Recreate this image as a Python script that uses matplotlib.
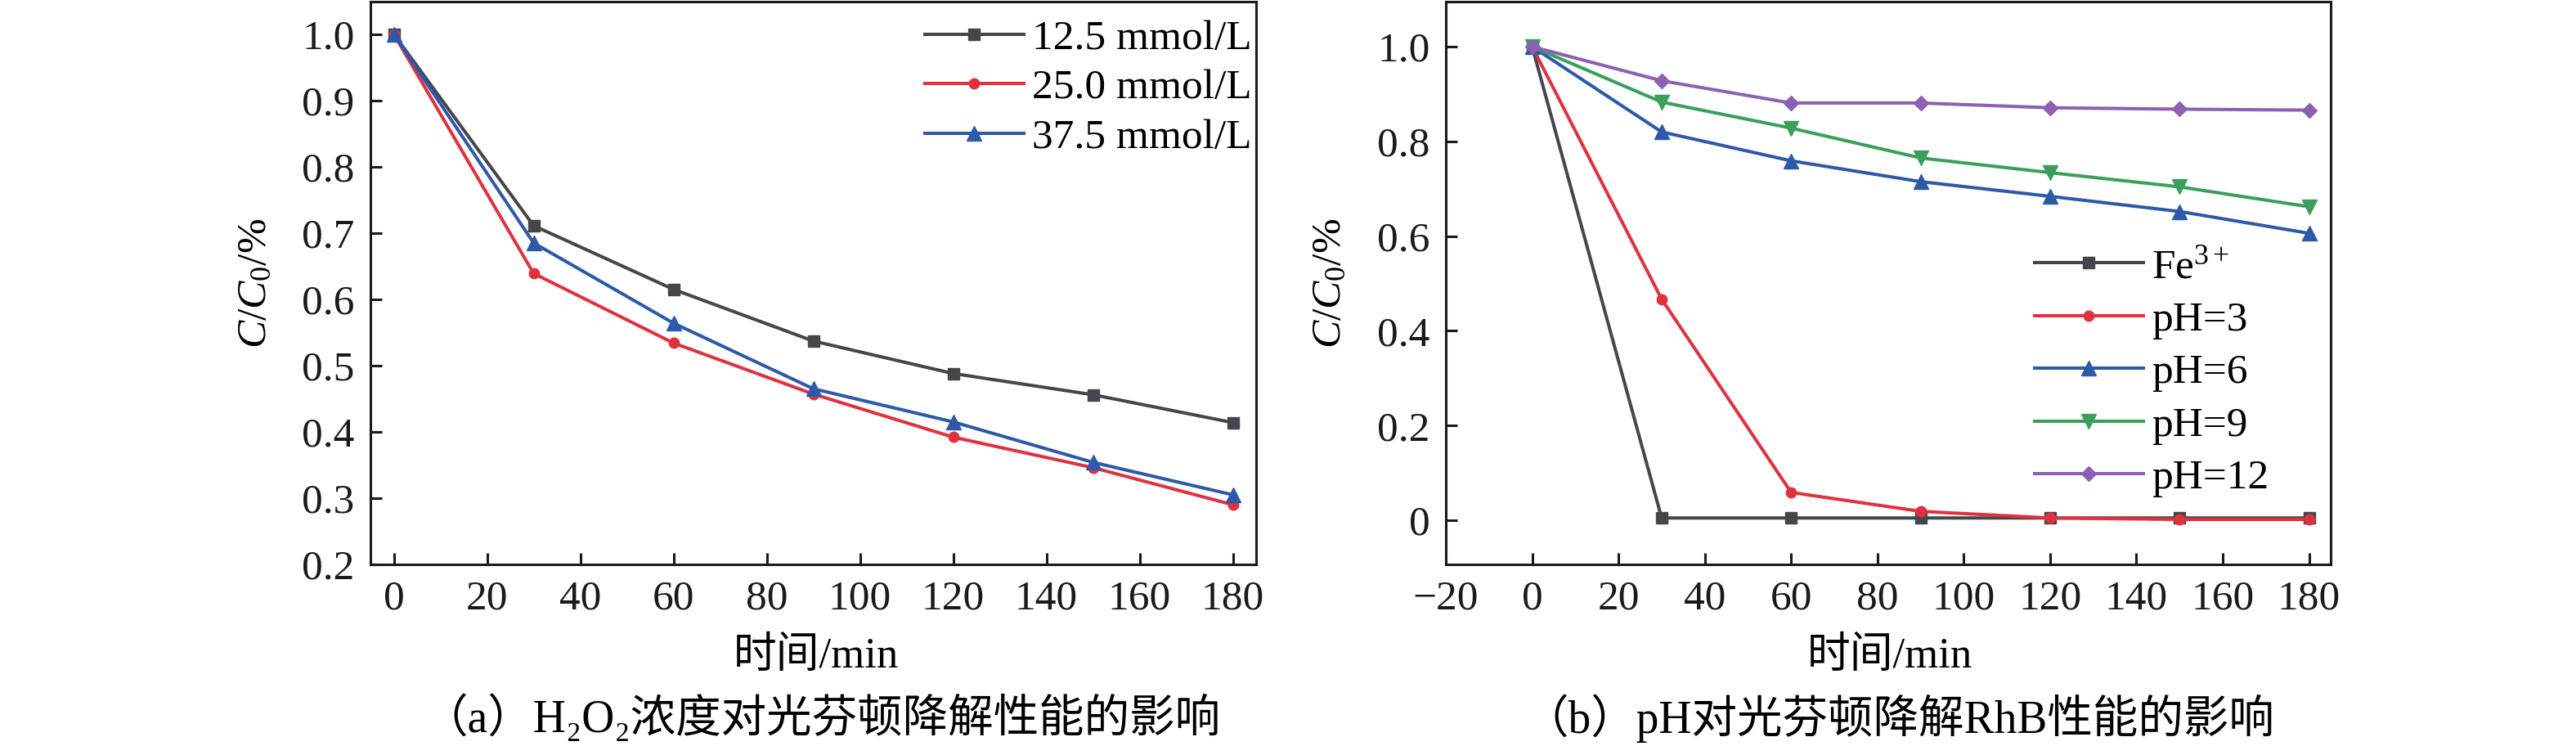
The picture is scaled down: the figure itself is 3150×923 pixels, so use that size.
import numpy as np
import matplotlib
matplotlib.use('Agg')
import matplotlib.pyplot as plt

# Fonts ------------------------------------------------------------------------
plt.rcParams['font.family'] = ['Liberation Serif', 'Noto Sans CJK SC', 'DejaVu Serif']
plt.rcParams['mathtext.fontset'] = 'custom'
plt.rcParams['mathtext.rm'] = 'Liberation Serif'
plt.rcParams['mathtext.it'] = 'Liberation Serif:italic'
plt.rcParams['axes.unicode_minus'] = True

FS = 37      # font size
CFS = 40     # caption font size
LW = 2.9     # data line width
SW = 2.2     # spine width

# Data -------------------------------------------------------------------------
time_min = [0, 30, 60, 90, 120, 150, 180]

# (a) H2O2 concentration
h2o2_labels = ['12.5 mmol/L', '25.0 mmol/L', '37.5 mmol/L']
c_125 = [1.0, 0.711, 0.615, 0.537, 0.488, 0.456, 0.414]
c_250 = [1.0, 0.639, 0.534, 0.457, 0.392, 0.346, 0.290]
c_375 = [1.0, 0.685, 0.564, 0.465, 0.415, 0.354, 0.305]

# (b) pH
ph_labels = ['Fe$^{3+}$', 'pH=3', 'pH=6', 'pH=9', 'pH=12']
c_fe = [1.0, 0.005, 0.005, 0.005, 0.005, 0.005, 0.005]
c_ph3 = [1.0, 0.467, 0.059, 0.019, 0.005, 0.002, 0.002]
c_ph6 = [1.0, 0.820, 0.759, 0.715, 0.684, 0.652, 0.606]
c_ph9 = [1.0, 0.883, 0.828, 0.765, 0.734, 0.704, 0.662]
c_ph12 = [1.0, 0.928, 0.881, 0.881, 0.871, 0.868, 0.866]

xticks_a = np.arange(0, 181, 20)
yticks_a = [0.2, 0.3, 0.4, 0.5, 0.6, 0.7, 0.8, 0.9, 1.0]
xticks_b = np.arange(-20, 181, 20)
yticks_b = [0, 0.2, 0.4, 0.6, 0.8, 1.0]

# Styles -----------------------------------------------------------------------
col_k = '#45464b'
col_r = '#e0313f'
col_b = '#2d59a9'
col_g = '#3a9f5c'
col_p = '#8c60b2'

W, H = 3150, 923
fig = plt.figure(figsize=(W / 100, H / 100), dpi=100)

ax1 = fig.add_axes([453 / W, 1 - 690 / H, (1536 - 453) / W, 688 / H])
ax2 = fig.add_axes([1768 / W, 1 - 690 / H, (2850 - 1768) / W, 688 / H])


def style_axes(ax):
    for sp in ax.spines.values():
        sp.set_linewidth(SW)
        sp.set_color('#1a1a1a')
    ax.tick_params(axis='both', direction='in', length=10, width=SW,
                   labelsize=FS, top=False, right=False, colors='#1a1a1a')
    ax.tick_params(axis='x', pad=14)
    ax.tick_params(axis='y', pad=14)


# Panel (a) --------------------------------------------------------------------
ax1.plot(time_min, c_125, color=col_k, lw=LW, marker='s', ms=10, label=h2o2_labels[0])
ax1.plot(time_min, c_250, color=col_r, lw=LW, marker='o', ms=9, label=h2o2_labels[1])
ax1.plot(time_min, c_375, color=col_b, lw=LW, marker='^', ms=13, label=h2o2_labels[2])
ax1.set_xlim(-5, 185)
ax1.set_ylim(0.2, 1.049)
ax1.set_xticks(xticks_a)
ax1.set_yticks(yticks_a)
ax1.set_yticklabels(['%.1f' % v for v in yticks_a])
style_axes(ax1)
ax1.legend(loc='upper right', bbox_to_anchor=(0.995, 0.968), frameon=False,
           fontsize=FS, handlelength=2.35, handletextpad=0.2, labelspacing=0.26,
           borderpad=0, borderaxespad=0)

# Panel (b) --------------------------------------------------------------------
ax2.plot(time_min, c_fe, color=col_k, lw=LW, marker='s', ms=10, label=ph_labels[0])
ax2.plot(time_min, c_ph3, color=col_r, lw=LW, marker='o', ms=9, label=ph_labels[1])
ax2.plot(time_min, c_ph6, color=col_b, lw=LW, marker='^', ms=13, label=ph_labels[2])
ax2.plot(time_min, c_ph9, color=col_g, lw=LW, marker='v', ms=13, label=ph_labels[3])
ax2.plot(time_min, c_ph12, color=col_p, lw=LW, marker='D', ms=9, label=ph_labels[4])
ax2.set_xlim(-20, 185)
ax2.set_ylim(-0.093, 1.095)
ax2.set_xticks(xticks_b)
ax2.set_yticks(yticks_b)
ax2.set_yticklabels(['0' if v == 0 else '%.1f' % v for v in yticks_b])
style_axes(ax2)
ax2.legend(loc='upper left', bbox_to_anchor=(0.665, 0.562), frameon=False,
           fontsize=FS, handlelength=2.6, handletextpad=0.2, labelspacing=0.34,
           borderpad=0, borderaxespad=0)

# Labels -----------------------------------------------------------------------
ylab = r'$\mathit{C}\mathrm{/}\mathit{C}_\mathrm{0}$/%'
fig.text(313 / W, 1 - 346 / H, ylab, rotation=90, ha='center', va='center', fontsize=FS)
fig.text(1627 / W, 1 - 346 / H, ylab, rotation=90, ha='center', va='center', fontsize=FS)

fig.text(998 / W, 1 - 803 / H, '时间/min', ha='center', va='center', fontsize=FS + 1)
fig.text(2311 / W, 1 - 803 / H, '时间/min', ha='center', va='center', fontsize=FS + 1)

fig.text(1004 / W, 1 - 878 / H, '（a）H₂O₂浓度对光芬顿降解性能的影响',
         ha='center', va='center', fontsize=CFS)
fig.text(2322 / W, 1 - 878 / H, '（b）pH对光芬顿降解RhB性能的影响',
         ha='center', va='center', fontsize=CFS)

fig.savefig('out.png', dpi=100)
